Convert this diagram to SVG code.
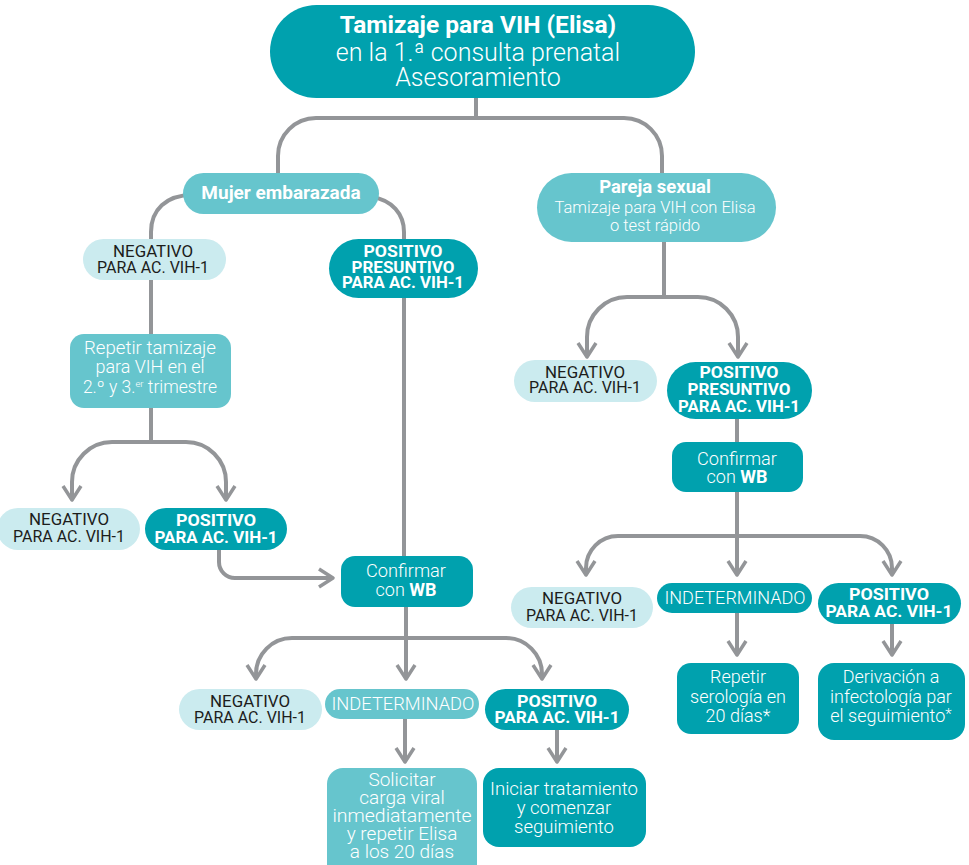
<svg xmlns="http://www.w3.org/2000/svg" width="969" height="865" viewBox="0 0 969 865">
  <style>
    .dk { fill: #00A1AE; }
    .md { fill: #66C5CD; }
    .lt { fill: #CBEBEF; }
    text { font-family: Roboto, "Liberation Sans", sans-serif; text-anchor: middle; }
    .w { fill: #ffffff; }
    .k { fill: #1d1d1b; font-weight: 400; font-size: 17px; }
    .b { font-weight: 700; }
    .l { font-weight: 300; }
    .pill { font-size: 16.5px; }
    .conn { fill: none; stroke: #939598; stroke-width: 4; }
    .arr { marker-end: url(#chev); }
  </style>
  <defs>
    <marker id="chev" markerUnits="userSpaceOnUse" viewBox="-18 -12 22 24" markerWidth="22" markerHeight="24" refX="0" refY="0" orient="auto" overflow="visible">
      <path d="M -14 -9 L 0 0 L -14 9" fill="none" stroke="#939598" stroke-width="3.5" stroke-linejoin="round"/>
    </marker>
  </defs>

  <rect width="969" height="865" fill="#ffffff"/>

  <!-- connectors -->
  <g id="connectors">
    <path class="conn" d="M 476 98 V 118"/>
    <path class="conn" d="M 278 175 V 156 A 38 38 0 0 1 316 118 H 624 A 38 38 0 0 1 662 156 V 175"/>

    <path class="conn" d="M 192 195 C 166 195 151 210 151 232 V 240"/>
    <path class="conn" d="M 372 197 C 392 200 404 214 404 232 V 557"/>

    <path class="conn" d="M 151 280 V 335"/>
    <path class="conn" d="M 151 407 V 442"/>
    <path class="conn arr" d="M 151 442 H 112 A 40 40 0 0 0 72 482 V 500"/>
    <path class="conn arr" d="M 151 442 H 186 A 40 40 0 0 1 226 482 V 500"/>

    <path class="conn arr" d="M 219 549 V 562 A 16 16 0 0 0 235 578 H 333"/>

    <path class="conn arr" d="M 406 606 V 679"/>
    <path class="conn arr" d="M 406 638 H 292 A 36 36 0 0 0 256 674 V 679"/>
    <path class="conn arr" d="M 406 638 H 506 A 36 36 0 0 1 542 674 V 679"/>

    <path class="conn arr" d="M 405 718 V 762"/>
    <path class="conn arr" d="M 557 729 V 762"/>

    <path class="conn" d="M 664 241 V 297"/>
    <path class="conn arr" d="M 664 297 H 627 A 40 40 0 0 0 587 337 V 357"/>
    <path class="conn arr" d="M 664 297 H 698 A 40 40 0 0 1 738 337 V 357"/>

    <path class="conn" d="M 737 418 V 443"/>
    <path class="conn arr" d="M 737 491 V 575"/>
    <path class="conn arr" d="M 737 536 H 618 A 32 32 0 0 0 586 568 V 575"/>
    <path class="conn arr" d="M 737 536 H 860 A 32 32 0 0 1 892 568 V 575"/>

    <path class="conn arr" d="M 737 612 V 655"/>
    <path class="conn arr" d="M 892 623 V 655"/>
  </g>

  <!-- root -->
  <g id="n-tamizaje">
    <rect class="dk" x="270" y="5" width="425" height="93" rx="46.5"/>
    <text class="w b" x="478" y="33" font-size="24.5">Tamizaje para VIH (Elisa)</text>
    <text class="w l" x="478" y="61" font-size="25">en la 1.ª consulta prenatal</text>
    <text class="w l" x="478" y="86" font-size="25">Asesoramiento</text>
  </g>

  <!-- pregnant woman branch -->
  <g id="n-mujer">
    <rect class="md" x="183" y="173" width="196" height="41" rx="20.5"/>
    <text class="w b" x="281" y="199" font-size="19">Mujer embarazada</text>
  </g>

  <g id="n-neg-1">
    <rect class="lt" x="83" y="239" width="143" height="41" rx="20.5"/>
    <text class="k" x="153" y="257" textLength="80" lengthAdjust="spacingAndGlyphs">NEGATIVO</text>
    <text class="k" x="153" y="273" textLength="112" lengthAdjust="spacingAndGlyphs">PARA AC. VIH-1</text>
  </g>

  <g id="n-pospres-1">
    <rect class="dk" x="329" y="239" width="149" height="59" rx="29.5"/>
    <text class="w b pill" x="403" y="257" textLength="79" lengthAdjust="spacingAndGlyphs">POSITIVO</text>
    <text class="w b pill" x="403" y="273" textLength="103" lengthAdjust="spacingAndGlyphs">PRESUNTIVO</text>
    <text class="w b pill" x="403" y="288" textLength="122" lengthAdjust="spacingAndGlyphs">PARA AC. VIH-1</text>
  </g>

  <g id="n-repetir-tamizaje">
    <rect class="md" x="70" y="334" width="161" height="74" rx="14"/>
    <text class="w l" x="150" y="354" font-size="17.5" textLength="132" lengthAdjust="spacingAndGlyphs">Repetir tamizaje</text>
    <text class="w l" x="150" y="373" font-size="17.5" textLength="109" lengthAdjust="spacingAndGlyphs">para VIH en el</text>
    <text class="w l" x="150" y="393" font-size="17.5">2.º y 3.<tspan font-size="9.5" dy="-6">er</tspan><tspan dy="6"> trimestre</tspan></text>
  </g>

  <g id="n-neg-2">
    <rect class="lt" x="-3" y="508" width="143" height="42" rx="21"/>
    <text class="k" x="69" y="525" textLength="80" lengthAdjust="spacingAndGlyphs">NEGATIVO</text>
    <text class="k" x="69" y="542" textLength="112" lengthAdjust="spacingAndGlyphs">PARA AC. VIH-1</text>
  </g>

  <g id="n-pos-2">
    <rect class="dk" x="145" y="508" width="142" height="42" rx="21"/>
    <text class="w b pill" x="216" y="526" textLength="80" lengthAdjust="spacingAndGlyphs">POSITIVO</text>
    <text class="w b pill" x="216" y="543" textLength="123" lengthAdjust="spacingAndGlyphs">PARA AC. VIH-1</text>
  </g>

  <g id="n-wb-1">
    <rect class="dk" x="341" y="556" width="132" height="51" rx="14"/>
    <text class="w l" x="406" y="577" font-size="18" textLength="80" lengthAdjust="spacingAndGlyphs">Confirmar</text>
    <text class="w l" x="406" y="596" font-size="18">con <tspan class="b">WB</tspan></text>
  </g>

  <g id="n-neg-3">
    <rect class="lt" x="179" y="689" width="143" height="41" rx="20.5"/>
    <text class="k" x="250" y="707" textLength="80" lengthAdjust="spacingAndGlyphs">NEGATIVO</text>
    <text class="k" x="250" y="723" textLength="112" lengthAdjust="spacingAndGlyphs">PARA AC. VIH-1</text>
  </g>

  <g id="n-indet-1">
    <rect class="md" x="325" y="689" width="154" height="30" rx="15"/>
    <text class="w l" x="403" y="710" font-size="19" textLength="143" lengthAdjust="spacingAndGlyphs">INDETERMINADO</text>
  </g>

  <g id="n-pos-3">
    <rect class="dk" x="485" y="689" width="144" height="41" rx="20.5"/>
    <text class="w b pill" x="557" y="707" textLength="80" lengthAdjust="spacingAndGlyphs">POSITIVO</text>
    <text class="w b pill" x="557" y="723" textLength="125" lengthAdjust="spacingAndGlyphs">PARA AC. VIH-1</text>
  </g>

  <g id="n-solicitar">
    <rect class="md" x="327" y="768" width="150" height="112" rx="16"/>
    <text class="w l" x="402" y="786" font-size="19">Solicitar</text>
    <text class="w l" x="402" y="804" font-size="19">carga viral</text>
    <text class="w l" x="402" y="822" font-size="19" textLength="139" lengthAdjust="spacingAndGlyphs">inmediatamente</text>
    <text class="w l" x="402" y="840" font-size="19">y repetir Elisa</text>
    <text class="w l" x="402" y="858" font-size="19">a los 20 días</text>
  </g>

  <g id="n-iniciar">
    <rect class="dk" x="483" y="768" width="163" height="79" rx="16"/>
    <text class="w l" x="564" y="795" font-size="18.5" textLength="148" lengthAdjust="spacingAndGlyphs">Iniciar tratamiento</text>
    <text class="w l" x="564" y="814" font-size="18.5">y comenzar</text>
    <text class="w l" x="564" y="833" font-size="18.5">seguimiento</text>
  </g>

  <!-- sexual partner branch -->
  <g id="n-pareja">
    <rect class="md" x="537" y="173" width="239" height="69" rx="34.5"/>
    <text class="w b" x="655" y="193" font-size="18.5">Pareja sexual</text>
    <text class="w l" x="655" y="213" font-size="16.5" textLength="201" lengthAdjust="spacingAndGlyphs">Tamizaje para VIH con Elisa</text>
    <text class="w l" x="655" y="231" font-size="16.5">o test rápido</text>
  </g>

  <g id="n-neg-4">
    <rect class="lt" x="514" y="360" width="143" height="42" rx="21"/>
    <text class="k" x="585" y="378" textLength="80" lengthAdjust="spacingAndGlyphs">NEGATIVO</text>
    <text class="k" x="585" y="393" textLength="112" lengthAdjust="spacingAndGlyphs">PARA AC. VIH-1</text>
  </g>

  <g id="n-pospres-2">
    <rect class="dk" x="667" y="362" width="145" height="57" rx="28.5"/>
    <text class="w b pill" x="739" y="378" textLength="79" lengthAdjust="spacingAndGlyphs">POSITIVO</text>
    <text class="w b pill" x="739" y="395" textLength="103" lengthAdjust="spacingAndGlyphs">PRESUNTIVO</text>
    <text class="w b pill" x="739" y="412" textLength="122" lengthAdjust="spacingAndGlyphs">PARA AC. VIH-1</text>
  </g>

  <g id="n-wb-2">
    <rect class="dk" x="672" y="442" width="131" height="50" rx="14"/>
    <text class="w l" x="737" y="465" font-size="18" textLength="80" lengthAdjust="spacingAndGlyphs">Confirmar</text>
    <text class="w l" x="737" y="483" font-size="18">con <tspan class="b">WB</tspan></text>
  </g>

  <g id="n-neg-5">
    <rect class="lt" x="511" y="587" width="142" height="41" rx="20.5"/>
    <text class="k" x="582" y="604" textLength="80" lengthAdjust="spacingAndGlyphs">NEGATIVO</text>
    <text class="k" x="582" y="621" textLength="112" lengthAdjust="spacingAndGlyphs">PARA AC. VIH-1</text>
  </g>

  <g id="n-indet-2">
    <rect class="dk" x="657" y="583" width="155" height="30" rx="15"/>
    <text class="w l" x="735" y="604" font-size="19" textLength="141" lengthAdjust="spacingAndGlyphs">INDETERMINADO</text>
  </g>

  <g id="n-pos-4">
    <rect class="dk" x="818" y="583" width="143" height="41" rx="20.5"/>
    <text class="w b pill" x="889" y="600" textLength="80" lengthAdjust="spacingAndGlyphs">POSITIVO</text>
    <text class="w b pill" x="889" y="617" textLength="127" lengthAdjust="spacingAndGlyphs">PARA AC. VIH-1</text>
  </g>

  <g id="n-repetir-serologia">
    <rect class="dk" x="677" y="663" width="122" height="71" rx="14"/>
    <text class="w l" x="738" y="683" font-size="18">Repetir</text>
    <text class="w l" x="738" y="703" font-size="18">serología en</text>
    <text class="w l" x="738" y="722" font-size="18">20 días*</text>
  </g>

  <g id="n-derivacion">
    <rect class="dk" x="818" y="663" width="147" height="77" rx="16"/>
    <text class="w l" x="891" y="683" font-size="18">Derivación a</text>
    <text class="w l" x="891" y="703" font-size="18">infectología par</text>
    <text class="w l" x="891" y="722" font-size="18">el seguimiento<tspan font-size="15" dy="-3">*</tspan></text>
  </g>
</svg>
